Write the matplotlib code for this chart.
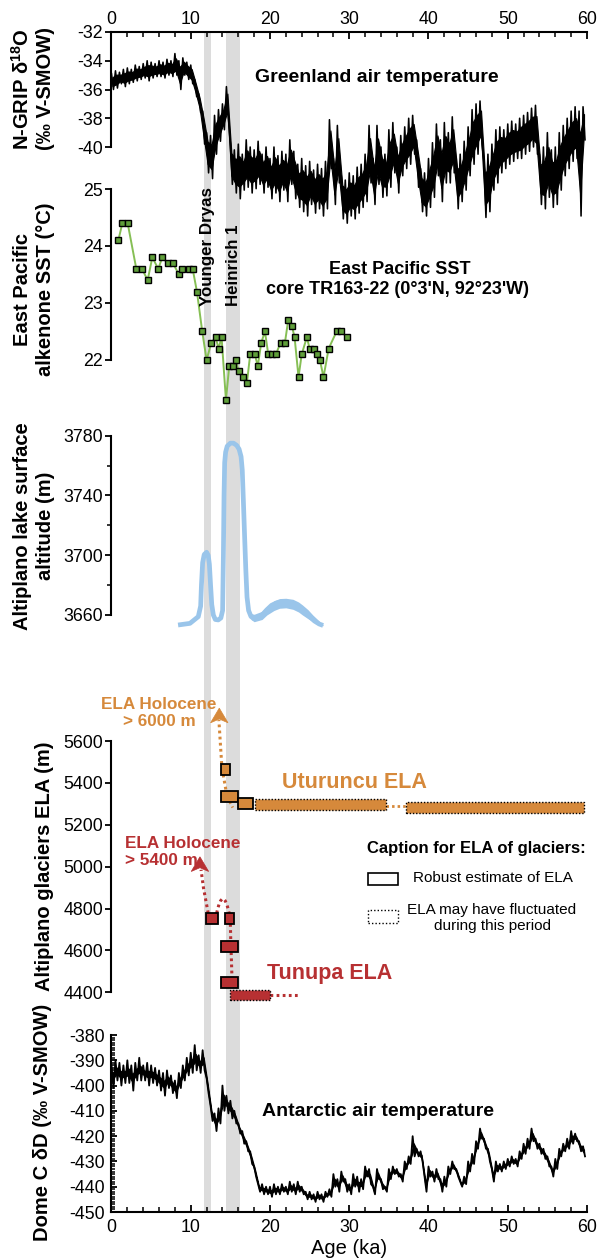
import numpy as np
import matplotlib
matplotlib.use("Agg")
import matplotlib.pyplot as plt
from matplotlib.patches import Rectangle, PathPatch, Polygon
from matplotlib.path import Path
from matplotlib.ticker import MultipleLocator

plt.rcParams["font.family"] = ["Liberation Sans", "DejaVu Sans"]
plt.rcParams["mathtext.fontset"] = "custom"
plt.rcParams["mathtext.rm"] = "Liberation Sans"
plt.rcParams["mathtext.bf"] = "Liberation Sans:bold"
plt.rcParams["axes.unicode_minus"] = False

# ------------------------------------------------------------------ data
# NGRIP d18O: upper / lower envelope of the record on a 0.5 ka grid
ngrip_age = np.arange(0.0, 60.0, 0.5)
ngrip_hi = [-34.9, -34.7, -34.8, -34.6, -34.5, -34.6, -34.3, -34.4, -34.2, -34.0,
            -34.1, -34.2, -34.0, -34.1, -33.9, -34.0, -33.5, -34.0, -33.8, -34.1,
            -34.3, -35.3, -36.3, -37.5, -39.0, -39.2, -37.8, -37.4, -37.0, -35.8,
            -39.8, -40.2, -39.8, -40.5, -39.5, -40.0, -40.2, -39.6, -40.5, -40.0,
            -40.8, -40.0, -40.6, -40.3, -40.5, -39.5, -40.3, -41.2, -40.8, -41.3,
            -41.0, -41.6, -41.2, -41.5, -41.0, -38.1, -40.8, -38.5, -42.0, -42.3,
            -41.8, -42.0, -41.4, -41.2, -40.5, -38.5, -40.8, -38.5, -40.0, -40.5,
            -38.8, -38.3, -40.0, -39.2, -38.6, -38.0, -37.8, -39.5, -41.5, -41.8,
            -40.8, -39.7, -38.4, -39.5, -38.3, -39.0, -37.9, -40.8, -40.5, -39.6,
            -38.6, -37.4, -37.0, -36.8, -41.0, -40.5, -39.8, -38.8, -38.6, -38.8,
            -38.4, -38.2, -38.4, -38.0, -37.8, -37.6, -37.3, -37.1, -40.5, -40.0,
            -39.0, -40.2, -40.0, -39.0, -38.5, -38.0, -37.5, -37.2, -37.5, -37.2]
ngrip_lo = [-36.0, -35.9, -35.6, -35.8, -35.6, -35.5, -35.4, -35.3, -35.2, -35.4,
            -35.2, -35.1, -35.1, -35.2, -35.0, -35.1, -35.0, -36.0, -35.0, -35.3,
            -35.6, -36.5, -37.6, -39.8, -41.8, -42.2, -40.5, -39.6, -38.8, -38.0,
            -42.6, -43.2, -43.6, -43.0, -42.8, -43.2, -42.9, -42.6, -43.2, -42.8,
            -43.6, -43.2, -43.8, -43.0, -43.8, -42.6, -43.6, -44.2, -44.5, -44.8,
            -44.0, -44.6, -44.3, -44.8, -44.3, -41.5, -44.0, -42.5, -45.0, -45.3,
            -44.8, -45.0, -44.6, -44.2, -43.8, -42.5, -44.0, -42.6, -43.5, -43.4,
            -42.8, -41.8, -43.2, -42.0, -41.5, -41.2, -40.5, -42.8, -44.5, -44.8,
            -44.2, -43.5, -42.0, -43.8, -42.5, -42.5, -41.8, -44.3, -43.8, -43.0,
            -42.0, -41.2, -40.5, -39.8, -44.9, -44.5, -43.0, -42.5, -41.8, -41.5,
            -41.2, -41.0, -40.8, -40.8, -40.5, -40.3, -40.0, -40.5, -44.0, -44.3,
            -43.5, -44.2, -44.0, -43.0, -42.0, -41.5, -41.0, -40.8, -44.8, -39.5]

# East Pacific alkenone SST, core TR163-22
sst_age = [0.86, 1.37, 2.04, 3.13, 3.85, 4.56, 5.15, 5.9, 6.41, 7.08, 7.75, 8.51,
           8.89, 9.77, 10.24, 10.78, 11.45, 12.0, 12.59, 13.14, 13.51, 13.89, 14.44,
           14.86, 15.36, 15.7, 16.04, 16.62, 17.09, 17.5, 18.06, 18.47, 18.89, 19.36,
           19.78, 20.24, 20.74, 21.33, 21.88, 22.3, 22.76, 23.1, 23.6, 24.0, 24.65,
           25.0, 25.5, 25.9, 26.3, 26.75, 27.4, 28.4, 29.0, 29.7]
sst_val = [24.1, 24.4, 24.4, 23.6, 23.6, 23.4, 23.8, 23.6, 23.8, 23.7, 23.7, 23.5,
           23.6, 23.6, 23.6, 23.2, 22.5, 22.0, 22.3, 22.4, 22.2, 22.4, 21.3,
           21.9, 21.9, 22.0, 21.8, 21.7, 21.6, 22.1, 22.1, 21.9, 22.3, 22.5,
           22.1, 22.1, 22.1, 22.3, 22.3, 22.7, 22.6, 22.4, 21.7, 22.1, 22.4,
           22.2, 22.2, 22.1, 22.0, 21.7, 22.2, 22.5, 22.5, 22.4]

# Altiplano paleolake surface altitude
lake_age = [8.4, 9.9, 10.95, 11.25, 11.35, 11.5, 11.7, 12.0, 12.2, 12.35, 12.5, 12.65,
            12.85, 13.1, 13.47, 13.8, 14.02, 14.12, 14.2, 14.28, 14.4, 14.6, 15.0, 15.4,
            15.8, 16.1, 16.35, 16.5, 16.65, 16.8, 16.95, 17.1, 17.3, 17.6, 18.0, 18.5,
            19.0, 19.6, 20.2, 20.8, 21.5, 22.3, 23.0, 23.7, 24.4, 25.0, 25.6, 26.2, 26.7]
lake_alt = [3653.3, 3654.4, 3658.9, 3666, 3680, 3695, 3700.5, 3702, 3700, 3694, 3680, 3667,
            3660, 3657, 3656.7, 3658, 3663, 3700, 3740, 3762, 3769, 3773, 3775, 3775,
            3773.5, 3771, 3766, 3757, 3735, 3712, 3690, 3672, 3663, 3659, 3657.5, 3658,
            3660, 3663.5, 3666.5, 3668, 3668.5, 3668, 3666.5, 3664.5, 3662, 3659, 3656, 3654, 3653]
# uncertainty envelope of the later lake-level rise
lake_env_age = [17.6, 18.0, 19.0, 19.6, 20.5, 21.2, 22.0, 22.9, 23.6, 24.1, 24.8, 25.4, 26.0, 26.7]
lake_env_top = [3661, 3660.5, 3662.5, 3665.6, 3669.5, 3671, 3671.2, 3670.5, 3668.7, 3666.7,
                3663.5, 3660, 3657, 3653.5]
lake_env_bot = [3657, 3655.5, 3657, 3660, 3663, 3664.5, 3664.8, 3663.8, 3662, 3660,
                3657.5, 3655.5, 3654, 3652.8]

# Glacier equilibrium-line altitudes (age range in ka, ELA in m)
utu_start = [13.8, 13.8, 15.9, 18.1, 37.1]
utu_end = [15.0, 15.9, 17.9, 34.7, 59.6]
utu_ela = [5465, 5337, 5303, 5298, 5283]
utu_robust = [True, True, True, False, False]

tun_start = [11.9, 14.35, 13.8, 13.8, 14.9]
tun_end = [13.4, 15.5, 15.9, 15.9, 20.0]
tun_ela = [4752, 4752, 4617, 4445, 4387]
tun_robust = [True, True, True, True, False]

# EPICA Dome C dD: upper / lower envelope on a 0.5 ka grid
domec_age = np.arange(0.0, 60.0, 0.5)
domec_hi = [-392, -390, -391, -392, -390, -392, -391, -389, -392, -391,
            -392, -393, -394, -395, -394, -396, -398, -395, -392, -389,
            -387, -384, -388, -386, -397, -408, -411, -409, -400, -404,
            -406, -410, -415, -418, -422, -426, -432, -439, -439, -440,
            -440, -439, -440, -439, -440, -438, -439, -438, -440, -442,
            -442, -443, -442, -443, -442, -441, -435, -437, -434, -437,
            -439, -435, -436, -437, -432, -433, -440, -433, -437, -440,
            -433, -432, -433, -435, -430, -428, -420, -425, -426, -436,
            -432, -434, -433, -437, -436, -432, -430, -433, -438, -436,
            -430, -427, -422, -417, -421, -425, -433, -430, -431, -430,
            -429, -428, -429, -426, -423, -421, -417, -421, -423, -425,
            -428, -432, -429, -425, -423, -421, -418, -419, -422, -424]
domec_lo = [-401, -398, -400, -399, -399, -402, -398, -398, -398, -400,
            -399, -400, -402, -404, -401, -403, -405, -401, -398, -396,
            -395, -394, -395, -394, -403, -414, -418, -415, -410, -411,
            -413, -415, -419, -423, -426, -431, -436, -442, -443, -443,
            -444, -443, -443, -442, -443, -442, -443, -442, -443, -445,
            -445, -446, -445, -446, -444, -444, -440, -442, -438, -442,
            -443, -440, -442, -441, -436, -439, -443, -437, -441, -442,
            -437, -435, -436, -438, -433, -431, -428, -428, -430, -442,
            -436, -438, -437, -442, -440, -435, -433, -436, -440, -439,
            -434, -431, -425, -421, -425, -430, -438, -434, -434, -433,
            -432, -431, -432, -429, -427, -425, -422, -425, -427, -429,
            -432, -436, -433, -428, -426, -425, -423, -422, -426, -428]

younger_dryas = (11.7, 12.6)
heinrich_1 = (14.5, 16.2)

# ------------------------------------------------------------------ style
W, H = 598, 1259
X0, X1 = 111.5, 587.0
ORANGE = "#d6893b"
RED = "#b73032"
GREEN_LINE = "#86bf55"
GREEN_FILL = "#5f9e3a"
BLUE = "#9ac5ea"
BAND = "#dcdcdc"
TICK_FS = 12.8
LABEL_FS = 14.5
SPINE_LW = 1.5
BOX_H = 52


def P(x, y):
    return (x / W, 1 - y / H)


def rect(top, bottom):
    return [X0 / W, 1 - bottom / H, (X1 - X0) / W, (bottom - top) / H]


def left_axis(ax, lo, hi, major, minor=None, direction="out", pad=1.5):
    for s in ("top", "right", "bottom"):
        ax.spines[s].set_visible(False)
    ax.spines["left"].set_bounds(lo, hi)
    ax.spines["left"].set_linewidth(SPINE_LW)
    ax.set_yticks(np.arange(lo, hi + major / 2, major))
    if minor:
        ax.yaxis.set_minor_locator(MultipleLocator(minor))
    ax.tick_params(axis="y", which="major", direction=direction, length=4.5,
                   width=1.3, labelsize=TICK_FS, pad=pad)
    ax.tick_params(axis="y", which="minor", direction=direction, length=3, width=1.1)
    ax.tick_params(axis="x", which="both", bottom=False, top=False,
                   labelbottom=False, labeltop=False)
    ax.set_xlim(0, 60)
    ax.patch.set_visible(False)


def noisy_record(ax, age, hi, lo, core, lw):
    """Draw a densely sampled record from its upper/lower envelope:
    a solid core band plus spikes alternating between the two edges."""
    age = np.asarray(age)
    hi, lo = np.asarray(hi, float), np.asarray(lo, float)
    ax.fill_between(age + 0.125, (1 - core) * hi + core * lo,
                    core * hi + (1 - core) * lo, color="black", lw=0.8)
    x = np.column_stack([age, age + 0.25]).ravel()
    y = np.column_stack([hi, lo]).ravel()
    ax.plot(x, y, color="black", lw=lw)


fig = plt.figure(figsize=(W / 100, H / 100), dpi=100)

# shaded climate events spanning all panels
band_ax = fig.add_axes(rect(32, 1212))
band_ax.set_xlim(0, 60)
band_ax.set_ylim(0, 1)
band_ax.axis("off")
for a, b in (younger_dryas, heinrich_1):
    band_ax.axvspan(a, b, color=BAND, lw=0)

# ---- Greenland panel
ax1 = fig.add_axes(rect(32, 230))
left_axis(ax1, -40, -32, 2)
ax1.set_ylim(-32 - 198 / 14.375, -32)
ax1.spines["top"].set_visible(True)
ax1.spines["top"].set_linewidth(SPINE_LW)
ax1.xaxis.set_major_locator(MultipleLocator(10))
ax1.xaxis.set_minor_locator(MultipleLocator(2))
ax1.tick_params(axis="x", which="both", top=True, labeltop=True, bottom=False,
                labelbottom=False, direction="in")
ax1.tick_params(axis="x", which="major", length=5, width=1.3, labelsize=TICK_FS, pad=3)
ax1.tick_params(axis="x", which="minor", length=3.5, width=1.1)
noisy_record(ax1, ngrip_age, ngrip_hi, ngrip_lo, core=0.22, lw=1.15)

# ---- SST panel
ax2 = fig.add_axes(rect(180, 410))
left_axis(ax2, 22, 25, 1)
ax2.set_ylim(22 - 50 / 57, 25 + 9 / 57)
ax2.plot(sst_age, sst_val, color=GREEN_LINE, lw=1.4, zorder=2)
ax2.plot(sst_age, sst_val, ls="none", marker="s", ms=4.6, mfc=GREEN_FILL,
         mec="black", mew=1.0, zorder=3)

# ---- lake panel
ax3 = fig.add_axes(rect(425, 635))
left_axis(ax3, 3660, 3780, 40, minor=20)
ax3.set_ylim(3660 - 20 / 1.494, 3780 + 10.7 / 1.494)
ax3.fill_between(lake_env_age, lake_env_bot, lake_env_top, color=BLUE, lw=0)
ax3.plot(lake_age, lake_alt, color=BLUE, lw=3.4, solid_capstyle="butt",
         solid_joinstyle="round")

# ---- glacier ELA panel
ax4 = fig.add_axes(rect(690, 1005))
left_axis(ax4, 4400, 5600, 200)
ax4.set_ylim(4400 - 12.7 * 4.776, 5600 + 51 * 4.776)

dots = (0, (0.9, 1.1))


def draw_boxes(ax, starts, ends, elas, robust, color):
    for s, e, v, r in zip(starts, ends, elas, robust):
        ax.add_patch(Rectangle((s, v - BOX_H / 2), e - s, BOX_H, facecolor=color,
                               edgecolor="black", lw=1.3 if r else 1.0,
                               ls="-" if r else (0, (1, 1.3)), zorder=4))


def head(ax, tip_x, tip_y, color):
    # stealth-style arrowhead, 2.2 ka wide and 70 m tall
    ax.add_patch(Polygon([(tip_x, tip_y), (tip_x - 1.1, tip_y - 70),
                          (tip_x, tip_y - 52), (tip_x + 1.1, tip_y - 70)],
                         closed=True, facecolor=color, edgecolor=color, lw=0.5, zorder=5))


# Uturuncu connectors
half = BOX_H / 2
ax4.plot([13.9, 13.55], [utu_ela[0] + half, 5700], color=ORANGE, lw=2.2, ls=dots, zorder=3)
head(ax4, 13.6, 5757, ORANGE)
ax4.plot([14.1, 14.45], [utu_ela[0] - half, utu_ela[1] + half], color=ORANGE, lw=2.2,
         ls=dots, zorder=3)
ax4.plot([14.9, 15.3], [utu_ela[1] - half, utu_ela[2] - half + 5], color=ORANGE, lw=2.0,
         ls=dots, zorder=3)
ax4.plot([utu_end[3], utu_start[4]], [5290, 5290], color=ORANGE, lw=2.0, ls=dots, zorder=3)
draw_boxes(ax4, utu_start, utu_end, utu_ela, utu_robust, ORANGE)

# Tunupa connectors
ax4.plot([12.2, 11.6, 11.3], [tun_ela[0] + half, 4900, 4985], color=RED, lw=2.2, ls=dots,
         zorder=3)
head(ax4, 11.16, 5047, RED)
arc = Path([(13.27, tun_ela[0] + half), (14.05, 4915), (14.85, tun_ela[1] + half)],
           [Path.MOVETO, Path.CURVE3, Path.CURVE3])
ax4.add_patch(PathPatch(arc, fill=False, edgecolor=RED, lw=2.2, ls=dots, zorder=3))
ax4.plot([15.0, 15.05], [tun_ela[1] - half, tun_ela[2] + half], color=RED, lw=2.2, ls=dots,
         zorder=3)
ax4.plot([15.1, 15.2], [tun_ela[2] - half, tun_ela[3] + half], color=RED, lw=2.2, ls=dots,
         zorder=3)
ax4.plot([tun_end[4], 23.8], [tun_ela[4], tun_ela[4]], color=RED, lw=2.2, ls=dots, zorder=3)
draw_boxes(ax4, tun_start, tun_end, tun_ela, tun_robust, RED)

ax4.text(*P(159, 713), "ELA Holocene\n> 6000 m", transform=fig.transFigure, color=ORANGE,
         ha="center", va="center", fontsize=12.3, fontweight="bold", linespacing=1.17,
         zorder=1)
ax4.text(*P(125, 852), "ELA Holocene\n> 5400 m", transform=fig.transFigure, color=RED,
         ha="left", va="center", fontsize=12.3, fontweight="bold", linespacing=1.12,
         zorder=1)
fig.text(*P(282, 782), "Uturuncu ELA", color=ORANGE, ha="left", va="center",
         fontsize=15.5, fontweight="bold")
fig.text(*P(266.7, 973), "Tunupa ELA", color=RED, ha="left", va="center",
         fontsize=15.5, fontweight="bold")

# caption for ELA boxes
fig.text(*P(366.7, 848), "Caption for ELA of glaciers:", ha="left", va="center",
         fontsize=12, fontweight="bold")
fig.add_artist(Rectangle(P(367.7, 885), 30 / W, 12.3 / H, transform=fig.transFigure,
                         fill=False, edgecolor="black", lw=1.2))
fig.text(*P(413, 878), "Robust estimate of ELA", ha="left", va="center", fontsize=11)
fig.add_artist(Rectangle(P(367.7, 922.7), 30 / W, 12.7 / H, transform=fig.transFigure,
                         fill=False, edgecolor="black", lw=1.0, ls=(0, (1, 1.5))))
fig.text(*P(492, 918), "ELA may have fluctuated\nduring this period", ha="center",
         va="center", fontsize=11, linespacing=1.1)

# ---- Dome C panel
ax5 = fig.add_axes(rect(1035, 1212))
left_axis(ax5, -450, -380, 10, minor=1, direction="in", pad=4.5)
ax5.set_ylim(-450, -380)
ax5.spines["bottom"].set_visible(True)
ax5.spines["bottom"].set_linewidth(SPINE_LW)
ax5.xaxis.set_major_locator(MultipleLocator(10))
ax5.xaxis.set_minor_locator(MultipleLocator(2))
ax5.tick_params(axis="x", which="both", bottom=True, labelbottom=True, top=False,
                labeltop=False, direction="in")
ax5.tick_params(axis="x", which="major", length=5, width=1.3, labelsize=TICK_FS, pad=5)
ax5.tick_params(axis="x", which="minor", length=3.5, width=1.1)
noisy_record(ax5, domec_age, domec_hi, domec_lo, core=0.35, lw=1.3)

# ---- panel titles and event names
fig.text(*P(377, 77), "Greenland air temperature", ha="center", va="center",
         fontsize=14, fontweight="bold")
fig.text(*P(400, 269), "East Pacific SST", ha="center", va="center", fontsize=13,
         fontweight="bold")
fig.text(*P(398, 290), "core TR163-22 (0°3'N, 92°23'W)", ha="center", va="center",
         fontsize=13, fontweight="bold")
fig.text(*P(378, 1111), "Antarctic air temperature", ha="center", va="center",
         fontsize=14, fontweight="bold")
fig.text(*P(207.5, 306), "Younger Dryas", rotation=90, ha="center", va="bottom",
         fontsize=12.2, fontweight="bold")
fig.text(*P(233, 306), "Heinrich 1", rotation=90, ha="center", va="bottom",
         fontsize=12.2, fontweight="bold")

# ---- axis labels
ylab = dict(rotation=90, ha="center", va="center", fontsize=LABEL_FS, fontweight="bold",
            linespacing=1.25, multialignment="center")
fig.text(*P(33, 89), "N-GRIP δ$^{\\mathbf{18}}$O\n(‰ V-SMOW)", **ylab)
fig.text(*P(34, 289), "East Pacific\nalkenone SST (°C)", **ylab)
fig.text(*P(34, 526), "Altiplano lake surface\naltitude (m)", **ylab)
fig.text(*P(45, 866), "Altiplano glaciers ELA (m)", **ylab)
fig.text(*P(43, 1122), "Dome C δD (‰ V-SMOW)", **ylab)
fig.text(*P(349, 1248), "Age (ka)", ha="center", va="center", fontsize=14.5)

fig.savefig("out.png", dpi=100)
